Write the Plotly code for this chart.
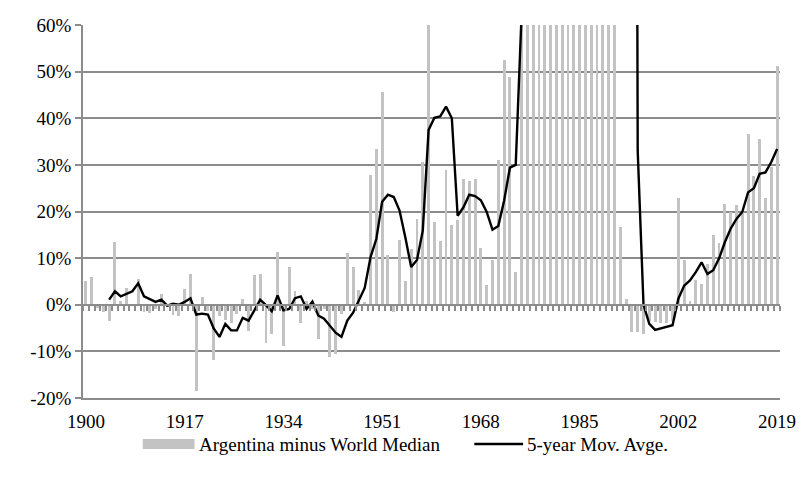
import plotly.graph_objects as go

years = list(range(1900, 2020))

# Argentina inflation minus world median (percentage points); 1959 and 1975-1991 run off the top of the chart
diff_values = [
    5.1, 6.0, -0.8, -1.5, -3.4, 13.4, 0.8, 3.5, -0.2, 5.5,          # 1900-1909
    -1.5, -1.7, -1.0, 2.3, -0.5, -2.3, -2.4, 3.3, 6.7, -18.4,       # 1910-1919
    1.6, -1.4, -11.9, -2.4, -3.3, -4.0, -2.0, 1.2, -5.7, 6.4,       # 1920-1929
    6.7, -8.1, -6.2, 11.4, -8.9, 8.1, 2.9, -3.9, 0.7, -1.0,         # 1930-1939
    -7.4, -1.0, -11.1, -10.5, -2.0, 11.1, 8.1, 3.2, 0.5, 27.9,      # 1940-1949
    33.3, 45.7, 10.6, -1.6, 13.9, 5.0, 12.0, 18.3, 30.7, 110.0,     # 1950-1959
    17.7, 13.6, 28.8, 17.1, 18.2, 26.9, 26.5, 27.0, 12.2, 4.3,      # 1960-1969
    9.7, 31.1, 52.4, 48.9, 7.1, 172.0, 433.0, 165.0, 165.0, 148.0,  # 1970-1979
    88.0, 92.0, 153.0, 333.0, 616.0, 662.0, 80.0, 122.0, 335.0, 3070.0,  # 1980-1989
    2305.0, 160.0, 16.6, 1.3, -5.9, -5.9, -6.2, -3.5, -3.8, -4.0,   # 1990-1999
    -4.0, -3.5, 22.9, 9.6, 0.9, 5.4, 4.5, 8.8, 15.0, 13.2,          # 2000-2009
    21.6, 19.9, 21.4, 19.9, 36.6, 27.7, 35.6, 22.9, 29.5, 51.3,     # 2010-2019
]

# 5-year moving average (starts in 1904); 1975-1994 run off the top of the chart
mov_avg = [
    None, None, None, None, 1.1, 2.9, 1.8, 2.4, 2.9, 4.6,           # 1900-1909
    1.8, 1.2, 0.6, 1.1, -0.2, 0.2, 0.0, 0.6, 1.4, -2.1,             # 1910-1919
    -1.9, -2.1, -5.1, -6.9, -4.1, -5.5, -5.5, -2.8, -3.4, -1.2,     # 1920-1929
    1.1, -0.1, -1.4, 2.0, -1.2, -0.9, 1.4, 1.8, -0.9, 0.7,          # 1930-1939
    -2.3, -3.0, -4.4, -6.0, -6.9, -3.4, -1.7, 1.1, 3.6, 10.2,       # 1940-1949
    14.1, 22.1, 23.6, 23.1, 20.2, 14.4, 8.1, 9.6, 15.9, 37.5,       # 1950-1959
    40.1, 40.4, 42.5, 40.0, 19.1, 20.9, 23.6, 23.3, 22.4, 19.9,     # 1960-1969
    16.1, 16.9, 22.3, 29.4, 30.0, 62.0, 143.0, 170.0, 170.0, 177.0, # 1970-1979
    200.0, 132.0, 129.0, 163.0, 256.0, 370.0, 369.0, 353.0, 363.0, 854.0,  # 1980-1989
    1182.0, 1198.0, 1173.0, 1114.0, 494.0, 33.0, 0.0, -4.1, -5.4, -5.1,   # 1990-1999
    -4.8, -4.4, 1.3, 4.1, 5.2, 7.0, 9.1, 6.6, 7.4, 9.9,             # 2000-2009
    13.4, 16.3, 18.4, 19.9, 24.1, 25.0, 28.1, 28.4, 30.6, 33.4,     # 2010-2019
]

tick_years = [1900, 1917, 1934, 1951, 1968, 1985, 2002, 2019]
y_ticks = [-20, -10, 0, 10, 20, 30, 40, 50, 60]
y_tick_labels = ["-20%", "-10%", "0%", "10%", "20%", "30%", "40%", "50%", "60%"]
bar_name = "Argentina minus World Median"
line_name = "5-year Mov. Avge."

FONT = "Liberation Serif, Times New Roman, serif"
FS = 19
GRID = "#8c8c8c"

fig = go.Figure()
fig.add_trace(go.Bar(
    x=years, y=diff_values, name=bar_name,
    marker=dict(color="#c3c3c3", line=dict(width=0)),
    width=0.5, showlegend=False,
))
fig.add_trace(go.Scatter(
    x=years, y=mov_avg, name=line_name, mode="lines",
    line=dict(color="black", width=2.4), showlegend=False,
))

L, R, T, B = 83, 25, 25, 80
W, H = 808, 478
pw, ph = W - L - R, H - T - B

def px_x(px):
    return (px - L) / pw

def px_y(py):
    return (H - B - py) / ph

fig.update_layout(
    width=W, height=H,
    margin=dict(l=L, r=R, t=T, b=B),
    paper_bgcolor="white", plot_bgcolor="white",
    font=dict(family=FONT, size=FS, color="black"),
    bargap=0, hovermode=False,
    xaxis=dict(
        range=[1899.5, 2019.5],
        tickmode="array", tickvals=tick_years, ticktext=[str(t) for t in tick_years],
        showgrid=False, zeroline=False,
        showline=True, linecolor=GRID, linewidth=1.5,
        ticks="", ticklabelstandoff=5,
    ),
    xaxis2=dict(
        overlaying="x", anchor="free", position=0.25,
        range=[1899.5, 2019.5], tick0=1899.5, dtick=1,
        showticklabels=False, showgrid=False, zeroline=False,
        showline=True, linecolor=GRID, linewidth=1.5,
        ticks="outside", ticklen=5, tickcolor=GRID, tickwidth=1.5,
    ),
    yaxis=dict(
        range=[-20, 60], tickmode="array", tickvals=y_ticks, ticktext=y_tick_labels,
        showgrid=True, gridcolor=GRID, gridwidth=1.5,
        zeroline=False, showline=True, linecolor=GRID, linewidth=1.5,
        ticks="outside", ticklen=6, tickcolor=GRID, tickwidth=1.5,
    ),
    showlegend=False,
)

# invisible helper trace so the zero-line category axis is drawn
fig.add_trace(go.Scatter(x=[1899.5], y=[0], xaxis="x2", mode="markers",
                         marker=dict(opacity=0), hoverinfo="skip", showlegend=False))

# custom legend
ly = 444
fig.add_shape(type="rect", xref="paper", yref="paper",
              x0=px_x(143), x1=px_x(195), y0=px_y(ly + 5), y1=px_y(ly - 5),
              fillcolor="#c3c3c3", line=dict(width=0))
fig.add_annotation(xref="paper", yref="paper", x=px_x(197), y=px_y(ly),
                   text=bar_name, showarrow=False, xanchor="left", yanchor="middle",
                   font=dict(family=FONT, size=FS, color="black"))
fig.add_shape(type="line", xref="paper", yref="paper",
              x0=px_x(476), x1=px_x(525), y0=px_y(ly), y1=px_y(ly),
              line=dict(color="black", width=2.4))
fig.add_annotation(xref="paper", yref="paper", x=px_x(527), y=px_y(ly),
                   text=line_name, showarrow=False, xanchor="left", yanchor="middle",
                   font=dict(family=FONT, size=FS, color="black"))

fig.write_html("out.html", config={"displayModeBar": False},
               post_script="document.body.style.margin='0px';")
